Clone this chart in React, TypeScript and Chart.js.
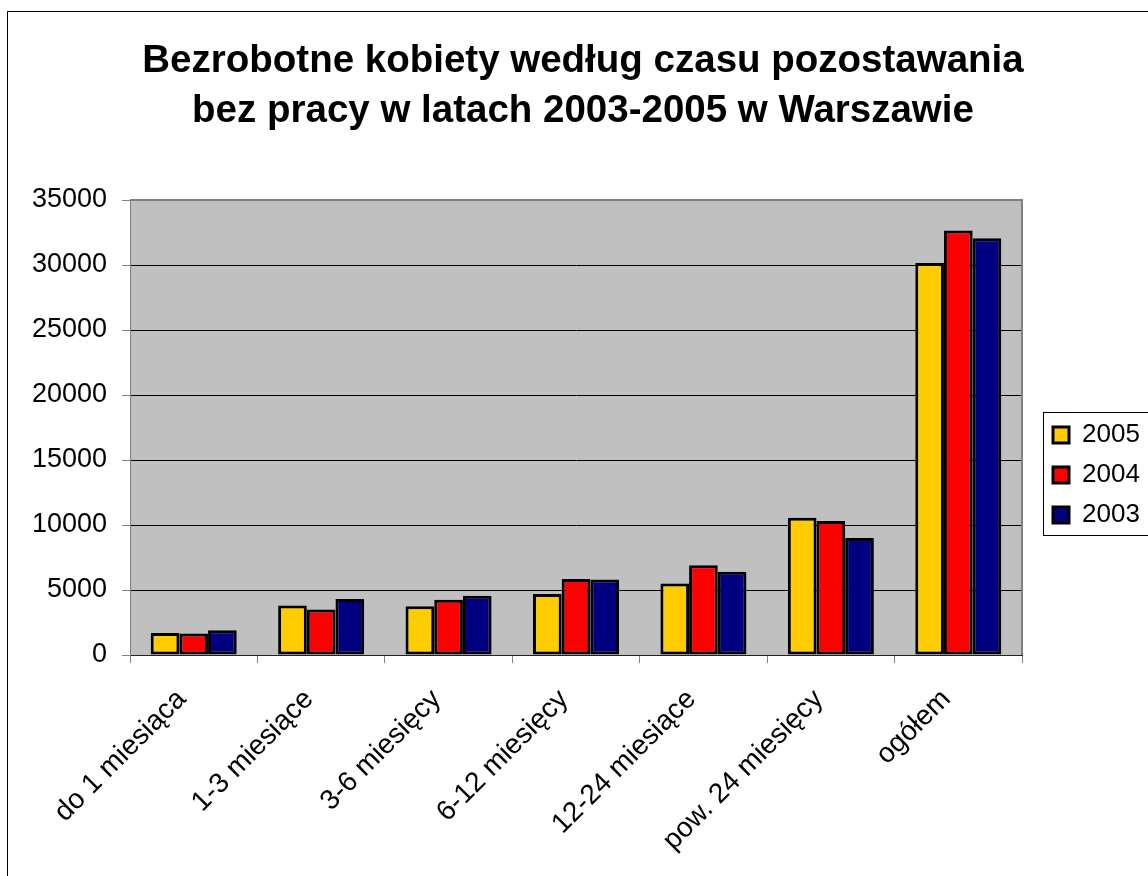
import React, { useEffect, useRef } from "react";
import { Chart, registerables } from "chart.js";

Chart.register(...registerables);

const categories = [
  "do 1 miesiąca",
  "1-3 miesiące",
  "3-6 miesięcy",
  "6-12 miesięcy",
  "12-24 miesiące",
  "pow. 24 miesięcy",
  "ogółem",
];
const seriesLabels = ["2005", "2004", "2003"];
const values2005 = [1700, 3800, 3750, 4700, 5500, 10550, 30150];
const values2004 = [1650, 3500, 4250, 5850, 6900, 10300, 32650];
const values2003 = [1900, 4300, 4550, 5800, 6400, 9000, 32050];
const seriesColors = ["#FFCC00", "#FF0000", "#000080"];
const titleLines = [
  "Bezrobotne kobiety według czasu pozostawania",
  "bez pracy w latach 2003-2005 w Warszawie",
];
const yMin = 0;
const yMax = 35000;
const yStep = 5000;

const FONT = "'Liberation Sans', Arial, Helvetica, sans-serif";

export default function App() {
  const ref = useRef<HTMLCanvasElement | null>(null);

  useEffect(() => {
    if (!ref.current) return;
    const deco = {
      id: "deco",
      afterLayout(chart: any) {
        const lg = chart.legend;
        if (lg) {
          const w = lg.width;
          const h = lg.height;
          lg.left = 1031;
          lg.top = 396;
          lg.right = lg.left + w;
          lg.bottom = lg.top + h;
        }
      },
      beforeDraw(chart: any) {
        const { ctx, chartArea: a } = chart;
        ctx.save();
        ctx.fillStyle = "#C0C0C0";
        ctx.fillRect(a.left, a.top, a.right - a.left, a.bottom - a.top);
        ctx.restore();
      },
      beforeDatasetsDraw(chart: any) {
        const { ctx, chartArea: a } = chart;
        ctx.save();
        ctx.strokeStyle = "#808080";
        ctx.lineWidth = 2;
        ctx.beginPath();
        ctx.moveTo(a.left, a.top);
        ctx.lineTo(a.right, a.top);
        ctx.lineTo(a.right, a.bottom);
        ctx.stroke();
        ctx.restore();
      },
      afterDraw(chart: any) {
        const { ctx } = chart;
        ctx.save();
        ctx.strokeStyle = "#000";
        ctx.lineWidth = 1;
        ctx.strokeRect(1035.5, 400.5, 200, 123);
        ctx.restore();
      },
    };

    const mk = (label: string, data: number[], color: string) => ({
      label,
      data,
      backgroundColor: color,
      borderColor: "#000",
      borderWidth: 3,
      borderSkipped: false as any,
      inflateAmount: 0,
      categoryPercentage: 0.675,
      barPercentage: 1.0,
    });

    const chart = new Chart(ref.current, {
      type: "bar",
      data: {
        labels: categories,
        datasets: [
          mk(seriesLabels[0], values2005, seriesColors[0]),
          mk(seriesLabels[1], values2004, seriesColors[1]),
          mk(seriesLabels[2], values2003, seriesColors[2]),
        ],
      },
      options: {
        animation: false,
        responsive: false,
        devicePixelRatio: 1,
        layout: { padding: 0 },
        font: { family: FONT },
        plugins: {
          tooltip: { enabled: false },
          title: {
            display: true,
            text: titleLines,
            color: "#000",
            font: { family: FONT, size: 38.5, weight: "bold", lineHeight: 50 / 38.5 },
            padding: { top: 24, bottom: 64 },
          },
          legend: {
            display: true,
            position: "chartArea",
            align: "start",
            labels: {
              color: "#000",
              font: { family: FONT, size: 26 },
              boxWidth: 16,
              boxHeight: 16,
              padding: 14,
            },
          },
        },
        scales: {
          x: {
            grid: {
              display: true,
              drawOnChartArea: false,
              drawTicks: true,
              tickLength: 8,
              color: "#808080",
              offset: true,
            },
            border: { display: true, color: "#222", width: 1 },
            ticks: {
              color: "#000",
              font: { family: FONT, size: 28 },
              minRotation: 45,
              maxRotation: 45,
              padding: 20,
              labelOffset: -12,
              autoSkip: false,
            },
            afterFit: (s: any) => {
              s.height = 221;
            },
          },
          y: {
            min: yMin,
            max: yMax,
            grid: {
              display: true,
              color: "#000",
              lineWidth: 1,
              drawTicks: true,
              tickLength: 8,
              tickColor: "#808080",
            },
            border: { display: true, color: "#808080", width: 1 },
            ticks: {
              stepSize: yStep,
              color: "#000",
              font: { family: FONT, size: 27 },
              padding: 15,
              callback: (v: any) => String(v),
            },
            afterFit: (s: any) => {
              s.width = 122;
            },
          },
          yRight: {
            type: "linear",
            position: "right",
            display: true,
            grid: { display: false },
            border: { display: false },
            ticks: { display: false },
            afterFit: (s: any) => {
              s.width = 136;
            },
          },
        },
      } as any,
      plugins: [deco as any],
    });
    return () => chart.destroy();
  }, []);

  return (
    <div style={{ position: "fixed", left: 0, top: 0, right: 0, bottom: 0, overflow: "hidden", background: "#fff" }}>
      <div
        style={{
          position: "absolute",
          left: 7,
          top: 11,
          width: 1160,
          height: 880,
          border: "1px solid #000",
        }}
      >
        <canvas
          ref={ref}
          width={1150}
          height={864}
          style={{ position: "absolute", left: 0, top: 0, width: 1150, height: 864 }}
        />
      </div>
    </div>
  );
}
